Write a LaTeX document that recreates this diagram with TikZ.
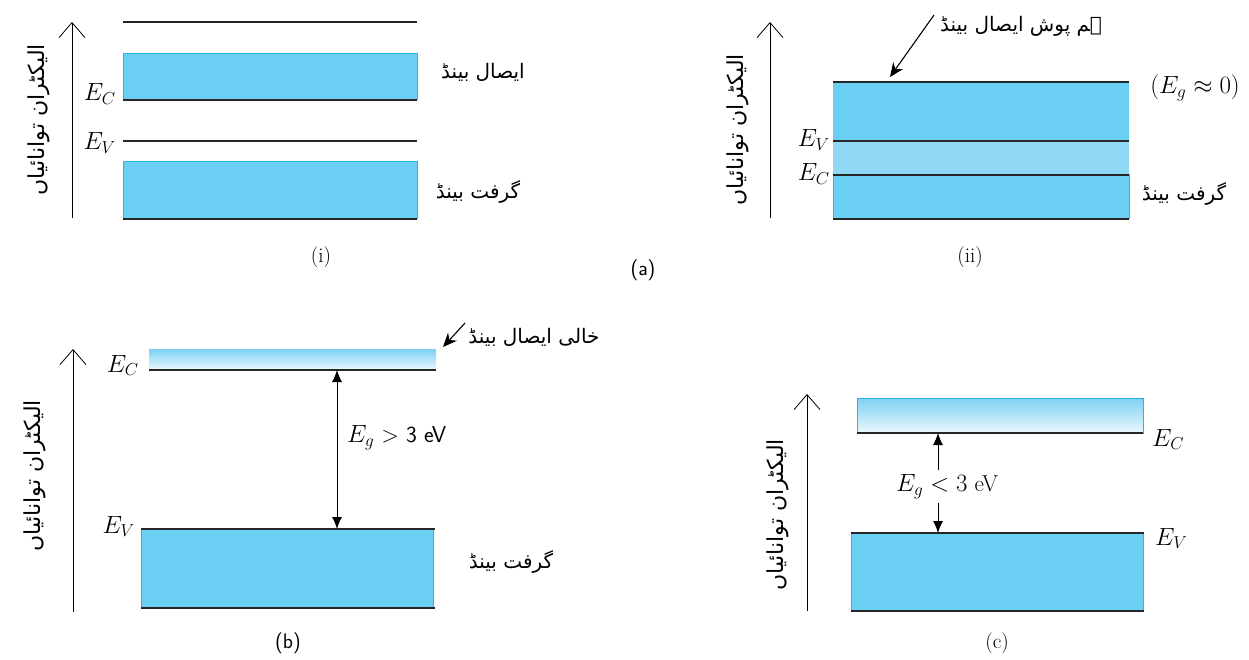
\documentclass[tikz,border=0pt]{standalone}
\usepackage{fontspec}
\newfontfamily\urdufont[Script=Arabic]{DejaVu Sans}
\TeXXeTstate=1
\usetikzlibrary{arrows.meta,positioning}
\definecolor{bandblue}{RGB}{107,207,244}
\definecolor{bandedge}{RGB}{40,180,230}
\definecolor{overlapblue}{RGB}{143,217,246}
\definecolor{emptytop}{RGB}{125,208,243}
\definecolor{emptybot}{RGB}{236,249,254}
\newcommand{\urdu}[1]{{\urdufont\beginR #1\endR}}
\tikzset{
  band/.style={fill=bandblue,draw=bandedge,line width=1pt},
  emptyband/.style={top color=emptytop,bottom color=emptybot,draw=bandedge,line width=0.8pt},
  overlap/.style={fill=overlapblue},
  level/.style={line width=1.4pt,black!85},
  axis/.style={-{Straight Barb[length=15pt,width=26pt]},line width=0.8pt},
  gap/.style={{Latex[length=12pt,width=10pt]}-{Latex[length=12pt,width=10pt]},line width=0.9pt},
  gapend/.style={-{Latex[length=12pt,width=10pt]},line width=0.9pt},
  ptr/.style={-{Stealth[length=14pt,width=12pt]},line width=1.1pt},
  elbl/.style={inner sep=0pt,font=\fontsize{24}{28}\selectfont},
  eglbl/.style={inner sep=0pt,font=\fontsize{23}{27}\selectfont},
  urlbl/.style={inner sep=0pt,font=\fontsize{20}{24}\selectfont},
  axlbl/.style={inner sep=0pt,rotate=90,font=\fontsize{22}{26}\selectfont},
  capt/.style={inner sep=0pt,font=\fontsize{21}{25}\selectfont},
}
\begin{document}
\begin{tikzpicture}[x=1pt,y=-1pt]
  \useasboundingbox (0,0) rectangle (1249,660);

  % (i)
  \coordinate (axIa) at (72,218);
  \coordinate (axIb) at (72,22);
  \draw[axis] (axIa) -- (axIb);
  \node[axlbl] (enI) at (39,120) {\urdu{الیکٹران توانائیاں}};
  \draw[level] (123,22) -- (417,22);
  \draw[band] (123,54) rectangle (417,100);
  \draw[level] (123,100) -- (417,100);
  \draw[level] (123,141) -- (417,141);
  \draw[band] (123,162) rectangle (417,219);
  \draw[level] (123,219) -- (417,219);
  \node[elbl,anchor=base east] (ecI) at (116,101) {$E_C$};
  \node[elbl,anchor=base east] (evI) at (116,150) {$E_V$};
  \node[urlbl] (cbI) at (483,72) {\urdu{ایصال بینڈ}};
  \node[urlbl] (vbI) at (478,192) {\urdu{گرفت بینڈ}};
  \node[capt] (capI) at (321,257) {(i)};

  \node[capt,font=\fontsize{21}{25}\sffamily] (capA) at (643,270) {(a)};

  % (ii)
  \coordinate (axIIa) at (770,218);
  \coordinate (axIIb) at (770,22);
  \draw[axis] (axIIa) -- (axIIb);
  \node[axlbl] (enII) at (738,130) {\urdu{الیکٹران توانائیاں}};
  \fill[bandblue] (833,82) rectangle (1129,141);
  \fill[overlap] (833,141) rectangle (1129,175);
  \draw[band] (833,175) rectangle (1129,219);
  \draw[level] (833,82) -- (1129,82);
  \draw[level] (833,141) -- (1129,141);
  \draw[level] (833,175) -- (1129,175);
  \draw[level] (833,219) -- (1129,219);
  \node[elbl,anchor=base east] (evII) at (830,147) {$E_V$};
  \node[elbl,anchor=base east] (ecII) at (830,181) {$E_C$};
  \node[elbl] (egII) at (1195,88) {$(E_g \approx 0)$};
  \node[urlbl] (vbII) at (1184,194) {\urdu{گرفت بینڈ}};
  \node[urlbl] (ovII) at (1021,26) {\urdu{ہم پوش ایصال بینڈ}};
  \coordinate (pIIa) at (934,15);
  \coordinate (pIIb) at (890,77);
  \draw[ptr] (pIIa) -- (pIIb);
  \node[capt] (capII) at (970,257) {(ii)};

  % (b)
  \coordinate (axBa) at (73,612);
  \coordinate (axBb) at (73,349);
  \draw[axis] (axBa) -- (axBb);
  \node[axlbl] (enB) at (35,476) {\urdu{الیکٹران توانائیاں}};
  \shade[top color=emptytop,bottom color=emptybot] (149,349) rectangle (436,370);
  \draw[level] (149,370) -- (436,370);
  \draw[band] (141,529) rectangle (433,608);
  \draw[level] (141,529) -- (435,529);
  \draw[level] (141,608) -- (435,608);
  \node[elbl,anchor=base east] (ecB) at (139,372) {$E_C$};
  \node[elbl,anchor=base east] (evB) at (135,533) {$E_V$};
  \coordinate (gBa) at (337,370);
  \coordinate (gBb) at (337,529);
  \draw[gap] (gBa) -- (gBb);
  \node[eglbl,anchor=west] (egB) at (347,438) {$E_g$ \textsf{> 3 eV}};
  \node[urlbl] (vbB) at (511,562) {\urdu{گرفت بینڈ}};
  \node[urlbl] (emB) at (534,337) {\urdu{خالی ایصال بینڈ}};
  \coordinate (pBa) at (465,323);
  \coordinate (pBb) at (443,347);
  \draw[ptr] (pBa) -- (pBb);
  \node[capt,font=\fontsize{21}{25}\sffamily] (capB) at (288,643) {(b)};

  % (c)
  \coordinate (axCa) at (807,611);
  \coordinate (axCb) at (807,394);
  \draw[axis] (axCa) -- (axCb);
  \node[axlbl] (enC) at (778,515) {\urdu{الیکٹران توانائیاں}};
  \draw[emptyband] (857,398) rectangle (1143,433);
  \draw[level] (857,433) -- (1143,433);
  \draw[band] (851,533) rectangle (1143,610);
  \draw[level] (851,533) -- (1144,533);
  \draw[level] (851,611) -- (1144,611);
  \node[elbl,anchor=base west] (ecC) at (1152,446) {$E_C$};
  \node[elbl,anchor=base west] (evC) at (1155,545) {$E_V$};
  \node[eglbl,anchor=west] (egC) at (896,487) {$E_g < 3$ eV};
  \coordinate (gCt) at (938,433);
  \coordinate (gCb) at (938,533);
  \coordinate (gCa) at (938,470);
  \coordinate (gCz) at (938,503);
  \draw[gapend] (gCa) -- (gCt);
  \draw[gapend] (gCz) -- (gCb);
  \node[capt] (capC) at (997,643) {(c)};
\end{tikzpicture}
\end{document}
